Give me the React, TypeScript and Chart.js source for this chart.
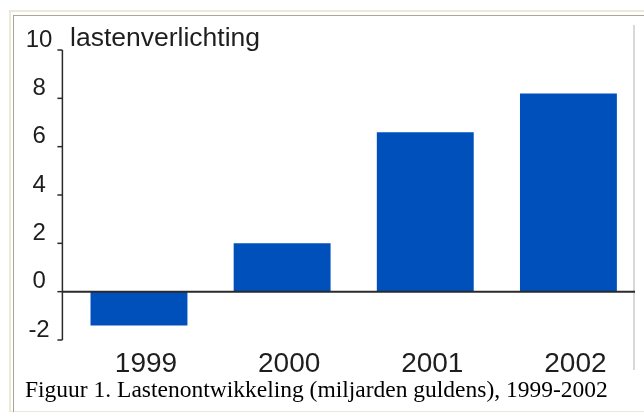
import React, { useEffect, useRef } from "react";
import { Chart, registerables } from "chart.js";

Chart.register(...registerables);

const categories = ["1999", "2000", "2001", "2002"];
const values = [-1.4, 2.0, 6.6, 8.2];
const yTicks = [-2, 0, 2, 4, 6, 8, 10];
const axisTitle = "lastenverlichting";
const caption = "Figuur 1. Lastenontwikkeling (miljarden guldens), 1999-2002";

const axisPlugin = {
  id: "axisLines",
  afterDatasetsDraw(chart: any) {
    const { ctx } = chart;
    const y = chart.scales.y;
    const area = chart.chartArea;
    const axisX = area.left - 5;
    ctx.save();
    ctx.strokeStyle = "#2a2a2a";
    ctx.lineWidth = 1.5;
    ctx.beginPath();
    ctx.moveTo(axisX, y.getPixelForValue(10));
    ctx.lineTo(axisX, y.getPixelForValue(-2));
    ctx.stroke();
    yTicks.forEach((t) => {
      const py = y.getPixelForValue(t);
      ctx.beginPath();
      ctx.moveTo(axisX - 5, py);
      ctx.lineTo(axisX, py);
      ctx.stroke();
    });
    ctx.lineWidth = 2;
    const py0 = y.getPixelForValue(0);
    ctx.beginPath();
    ctx.moveTo(axisX, py0);
    ctx.lineTo(area.right - 5, py0);
    ctx.stroke();
    ctx.restore();
  },
};

export default function App() {
  const ref = useRef<HTMLCanvasElement>(null);
  useEffect(() => {
    if (!ref.current) return;
    const chart = new Chart(ref.current, {
      type: "bar",
      data: {
        labels: categories,
        datasets: [
          {
            data: values,
            backgroundColor: "#0050BC",
            borderWidth: 0,
            barPercentage: 0.677,
            categoryPercentage: 1,
          },
        ],
      },
      options: {
        responsive: false,
        animation: false,
        layout: { padding: { left: 0, right: 4, top: 50, bottom: 0 } },
        plugins: { legend: { display: false }, tooltip: { enabled: false }, title: { display: false } },
        scales: {
          x: {
            grid: { display: false, drawTicks: false },
            border: { display: false },
            ticks: {
              color: "#1e1e1e",
              font: { family: "'Liberation Sans', Arial, sans-serif", size: 28 },
              labelOffset: 7,
              padding: 7,
              maxRotation: 0,
            },
            afterFit: (s: any) => {
              s.height = 40;
            },
          },
          y: {
            min: -2,
            max: 10,
            afterBuildTicks: (s: any) => {
              s.ticks = yTicks.map((v) => ({ value: v }));
            },
            grid: { display: false, drawTicks: false },
            border: { display: false },
            ticks: {
              color: "#1e1e1e",
              font: { family: "'Liberation Sans', Arial, sans-serif", size: 24 },
              labelOffset: -10,
              crossAlign: "center",
              padding: 15,
            },
            afterFit: (s: any) => {
              s.width = 67.4;
            },
          },
        },
      },
      plugins: [axisPlugin],
    });
    return () => chart.destroy();
  }, []);

  return (
    <div style={{ position: "fixed", left: 0, top: 0, width: 644, height: 412, background: "#fff", overflow: "hidden" }}>
      <div style={{ position: "absolute", left: 9, top: 10, width: 700, height: 399, borderLeft: "2px solid #ECE9D8", borderTop: "2px solid #ECE9D8", borderBottom: "2px solid #ECE9D8" }} />
      <div style={{ position: "absolute", left: 13, top: 15, width: 700, height: 400, borderLeft: "1px solid #A9A592", borderTop: "1px solid #A9A592" }} />
      <div style={{ position: "absolute", left: 633, top: 25, width: 2, height: 345, background: "#D8D8D8" }} />
      <canvas ref={ref} width={644} height={380} style={{ position: "absolute", left: 0, top: 0 }} />
      <div style={{ position: "absolute", left: 70, top: 22, fontFamily: "'Liberation Sans', Arial, sans-serif", fontSize: 26.5, color: "#1e1e1e", lineHeight: "30px", whiteSpace: "nowrap" }}>{axisTitle}</div>
      <div style={{ position: "absolute", left: 25, top: 374, fontFamily: "'Liberation Serif', 'Times New Roman', serif", fontSize: 23.5, color: "#000", lineHeight: "30px", whiteSpace: "nowrap" }}>{caption}</div>
    </div>
  );
}
